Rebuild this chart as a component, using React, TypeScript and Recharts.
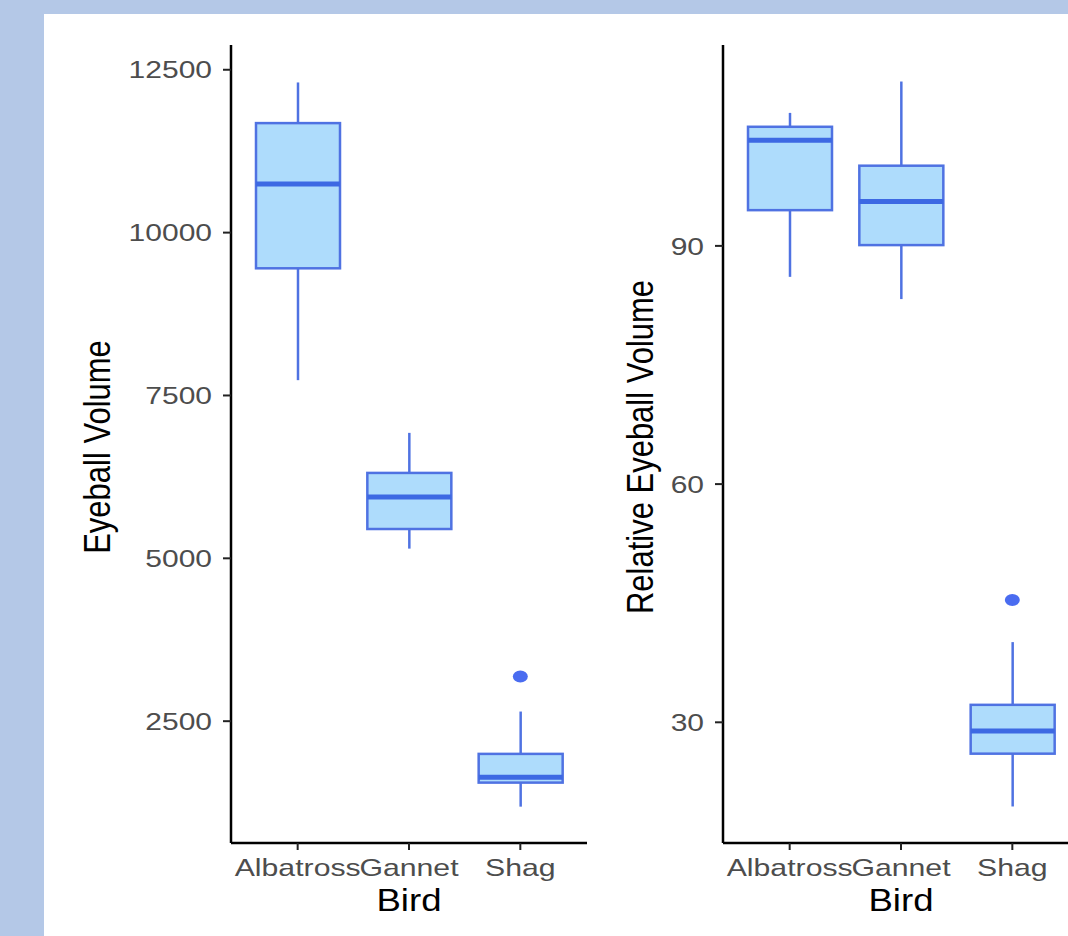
import React from 'react';
import { ComposedChart, Bar, Scatter, XAxis, YAxis } from 'recharts';

const birds = ['Albatross', 'Gannet', 'Shag'];

const eyeMin = [7735, 5149, 1188];
const eyeQ1 = [9452, 5450, 1557];
const eyeMedian = [10748, 5942, 1638];
const eyeQ3 = [11681, 6311, 1998];
const eyeMax = [12305, 6926, 2648];
const eyeOutlier = [null, null, 3186];
const eyeTicks = [2500, 5000, 7500, 10000, 12500];

const relMin = [86.1, 83.3, 19.4];
const relQ1 = [94.5, 90.1, 26.05];
const relMedian = [103.3, 95.6, 28.9];
const relQ3 = [105.0, 100.1, 32.2];
const relMax = [106.75, 110.7, 40.1];
const relOutlier = [null, null, 45.4];
const relTicks = [30, 60, 90];

const FONT = '"Liberation Sans", Arial, Helvetica, sans-serif';
const FILL = '#aedcfc';
const STROKE = '#4f72e2';
const MEDIAN = '#3d69e3';
const OUT = '#4a6cf0';

function buildRows(min, q1, med, q3, max, out) {
  return birds.map((b, i) => ({
    bird: b,
    min: min[i],
    q1: q1[i],
    median: med[i],
    q3: q3[i],
    max: max[i],
    outlier: out[i],
  }));
}

const eyeRows = buildRows(eyeMin, eyeQ1, eyeMedian, eyeQ3, eyeMax, eyeOutlier);
const relRows = buildRows(relMin, relQ1, relMedian, relQ3, relMax, relOutlier);

const BoxShape = (props: any) => {
  const { x, y, width, height, payload } = props;
  if (!payload) return <g />;
  const top = Math.min(y, y + height);
  const span = Math.abs(height);
  const { min, max, q1, median, q3 } = payload;
  const py = (v: number) => top + ((max - v) / (max - min)) * span;
  const cx = x + width / 2;
  return (
    <g>
      <line x1={cx} x2={cx} y1={py(max)} y2={py(q3)} stroke={STROKE} strokeWidth={2.5} />
      <line x1={cx} x2={cx} y1={py(q1)} y2={py(min)} stroke={STROKE} strokeWidth={2.5} />
      <rect x={x} y={py(q3)} width={width} height={py(q1) - py(q3)} fill={FILL} stroke={STROKE} strokeWidth={2.5} />
      <line x1={x} x2={x + width} y1={py(median)} y2={py(median)} stroke={MEDIAN} strokeWidth={5} />
    </g>
  );
};

const OutlierShape = (props: any) => {
  const { cx, cy, payload } = props;
  if (!payload || payload.outlier == null || !isFinite(cx) || !isFinite(cy)) return <g />;
  return <ellipse cx={cx} cy={cy} rx={7.5} ry={6} fill={OUT} />;
};

const YTick = (props: any) => {
  const { x, y, payload } = props;
  return (
    <text
      transform={`translate(${x},${y}) scale(1.25,1)`}
      textAnchor="end"
      dy="0.36em"
      fontFamily={FONT}
      fontSize={24}
      fill="#4d4d4d"
    >
      {payload.value}
    </text>
  );
};

const XTick = (props: any) => {
  const { x, y, payload } = props;
  return (
    <text
      transform={`translate(${x},${y + 22}) scale(1.26,1)`}
      textAnchor="middle"
      fontFamily={FONT}
      fontSize={24}
      fill="#4d4d4d"
    >
      {payload.value}
    </text>
  );
};

const XTitle = (props: any) => {
  const { viewBox, text } = props;
  const cx = viewBox.x + viewBox.width / 2;
  const cy = viewBox.y + 68;
  return (
    <text transform={`translate(${cx},${cy}) scale(1.18,1)`} textAnchor="middle" fontFamily={FONT} fontSize={31} fill="#000">
      {text}
    </text>
  );
};

const YTitle = (props: any) => {
  const { viewBox, text, offsetX } = props;
  const cx = viewBox.x + offsetX;
  const cy = viewBox.y + viewBox.height / 2 + 3;
  return (
    <text
      transform={`translate(${cx},${cy}) scale(1.18,1) rotate(-90)`}
      textAnchor="middle"
      dominantBaseline="central"
      fontFamily={FONT}
      fontSize={31}
      fill="#000"
    >
      {text}
    </text>
  );
};

function Panel(props: any) {
  const { data, domain, ticks, yTitle, yAxisWidth, width, titleOffset } = props;
  return (
    <ComposedChart
      width={width}
      height={936}
      data={data}
      margin={{ top: 45, right: width - yAxisWidth - 356, bottom: 0, left: 0 }}
    >
      <XAxis
        dataKey="bird"
        type="category"
        padding={{ left: 11, right: 11 }}
        height={93}
        axisLine={{ stroke: '#000', strokeWidth: 2.5 }}
        tickLine={{ stroke: '#222', strokeWidth: 2 }}
        tickSize={7}
        tickMargin={4}
        tick={<XTick />}
        interval={0}
        label={<XTitle text="Bird" />}
      />
      <YAxis
        type="number"
        domain={domain}
        ticks={ticks}
        allowDataOverflow
        width={yAxisWidth}
        axisLine={{ stroke: '#000', strokeWidth: 2.5 }}
        tickLine={{ stroke: '#222', strokeWidth: 2 }}
        tickSize={8}
        tickMargin={11}
        tick={<YTick />}
        label={<YTitle text={yTitle} offsetX={titleOffset} />}
      />
      <Bar dataKey={(d: any) => [d.min, d.max]} barSize={84} shape={<BoxShape />} isAnimationActive={false} />
      <Scatter dataKey="outlier" shape={<OutlierShape />} isAnimationActive={false} />
    </ComposedChart>
  );
}

export default function App() {
  return (
    <div
      style={{
        position: 'absolute',
        left: 0,
        top: 0,
        width: 1068,
        height: 936,
        background: '#b4c8e7',
        overflow: 'hidden',
      }}
    >
      <div style={{ position: 'absolute', left: 44, top: 14, right: 0, bottom: 0, background: '#ffffff' }} />
      <div style={{ position: 'absolute', left: 0, top: 0 }}>
        <Panel
          data={eyeRows}
          domain={[630, 12880]}
          ticks={eyeTicks}
          yTitle="Eyeball Volume"
          yAxisWidth={231}
          width={600}
          titleOffset={97}
        />
      </div>
      <div style={{ position: 'absolute', left: 600, top: 0 }}>
        <Panel
          data={relRows}
          domain={[14.8, 115.3]}
          ticks={relTicks}
          yTitle="Relative Eyeball Volume"
          yAxisWidth={123}
          width={480}
          titleOffset={40}
        />
      </div>
    </div>
  );
}
